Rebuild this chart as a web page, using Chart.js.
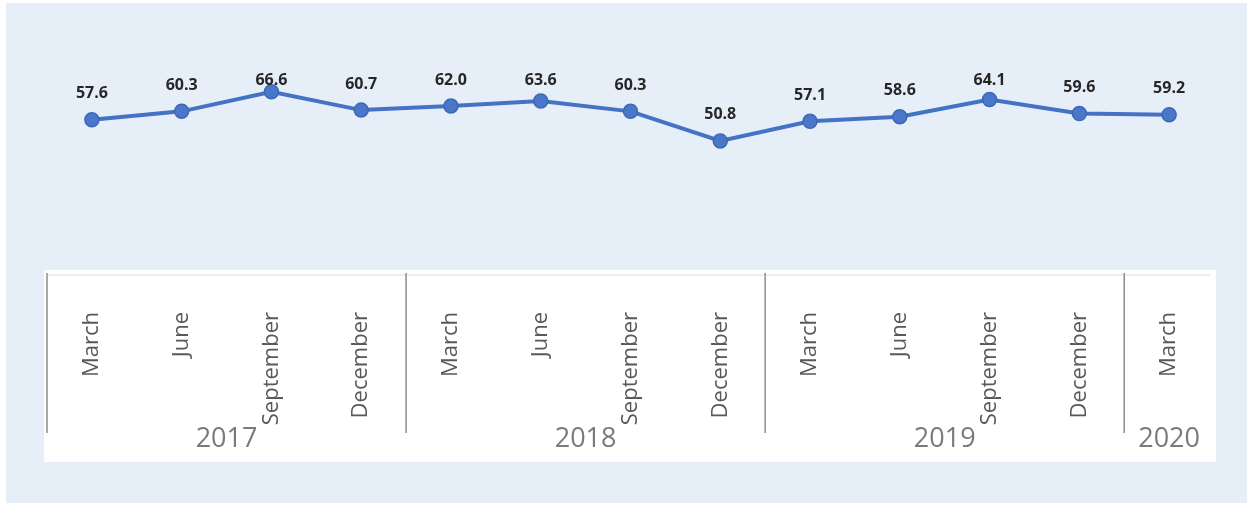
<!DOCTYPE html>
<html>
<head>
<meta charset="utf-8">
<script src="https://cdn.jsdelivr.net/npm/chart.js@4.4.1/dist/chart.umd.min.js"></script>
<style>
  html, body { margin: 0; padding: 0; background: #ffffff; }
  #wrap { position: relative; width: 1251px; height: 506px; }
  canvas { display: block; }
</style>
</head>
<body>
<div id="wrap"><canvas id="c" width="1251" height="506"></canvas></div>
<script>
// Quarterly index values, March 2017 – March 2020
const months = ["March", "June", "September", "December",
                "March", "June", "September", "December",
                "March", "June", "September", "December",
                "March"];
const years = ["2017", "2018", "2019", "2020"];
// number of quarters shown under each year
const yearSpans = [4, 4, 4, 1];
const values = [57.6, 60.3, 66.6, 60.7, 62.0, 63.6, 60.3, 50.8, 57.1, 58.6, 64.1, 59.6, 59.2];

const BG = "#e6eff7";
const LINE = "#4472c4";

// Panel backgrounds, the white category box, year groups and separators
const framePlugin = {
  id: "frame",
  beforeDraw(chart) {
    const { ctx, chartArea, scales } = chart;
    const x = scales.x;
    ctx.save();
    ctx.fillStyle = "#ffffff";
    ctx.fillRect(0, 0, chart.width, chart.height);
    ctx.fillStyle = BG;
    ctx.fillRect(6, 3, chart.width - 10, chart.height - 6);
    // white box under the plot holding the category labels
    const boxTop = chartArea.bottom + 2;
    ctx.fillStyle = "#ffffff";
    ctx.fillRect(x.left - 3, boxTop, x.right - x.left + 5, 192);
    ctx.strokeStyle = "#efe6e1";
    ctx.lineWidth = 1.5;
    ctx.beginPath();
    ctx.moveTo(x.left, boxTop + 5);
    ctx.lineTo(x.right - 4, boxTop + 5);
    ctx.stroke();
    ctx.restore();
  },
  afterDraw(chart) {
    const { ctx, chartArea, scales } = chart;
    const x = scales.x;
    const step = x.getPixelForValue(1) - x.getPixelForValue(0);
    const lineTop = chartArea.bottom + 5;
    const lineBottom = chartArea.bottom + 165;
    ctx.save();
    ctx.strokeStyle = "#8c8c8c";
    ctx.lineWidth = 1.5;
    // group separators: left edge and between years
    let start = 0;
    const bounds = [x.getPixelForValue(0) - step / 2];
    yearSpans.forEach(n => {
      start += n;
      bounds.push(x.getPixelForValue(start - 1) + step / 2);
    });
    bounds.slice(0, bounds.length - 1).forEach(b => {
      ctx.beginPath();
      ctx.moveTo(b, lineTop);
      ctx.lineTo(b, lineBottom);
      ctx.stroke();
    });
    // year labels centred under each group
    ctx.fillStyle = "#7a7a7a";
    ctx.font = "27px 'Open Sans', sans-serif";
    ctx.textAlign = "center";
    ctx.textBaseline = "middle";
    years.forEach((y, i) => {
      const cx = (bounds[i] + bounds[i + 1]) / 2;
      ctx.fillText(y, cx, chartArea.bottom + 171);
    });
    ctx.restore();
  }
};

// Value labels above each marker
const valueLabels = {
  id: "valueLabels",
  afterDatasetsDraw(chart) {
    const { ctx } = chart;
    const meta = chart.getDatasetMeta(0);
    ctx.save();
    ctx.fillStyle = "#262626";
    ctx.font = "bold 16px 'Open Sans', sans-serif";
    ctx.textAlign = "center";
    ctx.textBaseline = "middle";
    meta.data.forEach((pt, i) => {
      const y = Math.max(pt.y - 26, 80);
      ctx.fillText(values[i].toFixed(1), pt.x, y);
    });
    ctx.restore();
  }
};

new Chart(document.getElementById("c"), {
  type: "line",
  data: {
    labels: months,
    datasets: [{
      data: values,
      borderColor: LINE,
      borderWidth: 4,
      pointRadius: 7,
      pointHoverRadius: 7,
      pointBackgroundColor: "#4a77c9",
      pointBorderColor: "#3f67b3",
      pointBorderWidth: 1.5,
      tension: 0
    }]
  },
  options: {
    responsive: false,
    animation: false,
    events: [],
    layout: { padding: { top: 50, left: 47, right: 37, bottom: 0 } },
    plugins: { legend: { display: false }, tooltip: { enabled: false } },
    scales: {
      y: { display: false, min: 10, max: 80 },
      x: {
        offset: true,
        border: { display: false },
        grid: { display: false, drawTicks: false },
        ticks: {
          color: "#595959",
          font: { family: "'Open Sans', sans-serif", size: 22 },
          minRotation: 90,
          maxRotation: 90,
          padding: 44,
          autoSkip: false
        },
        afterFit(scale) { scale.height = 238; }
      }
    }
  },
  plugins: [framePlugin, valueLabels]
});
</script>
</body>
</html>
